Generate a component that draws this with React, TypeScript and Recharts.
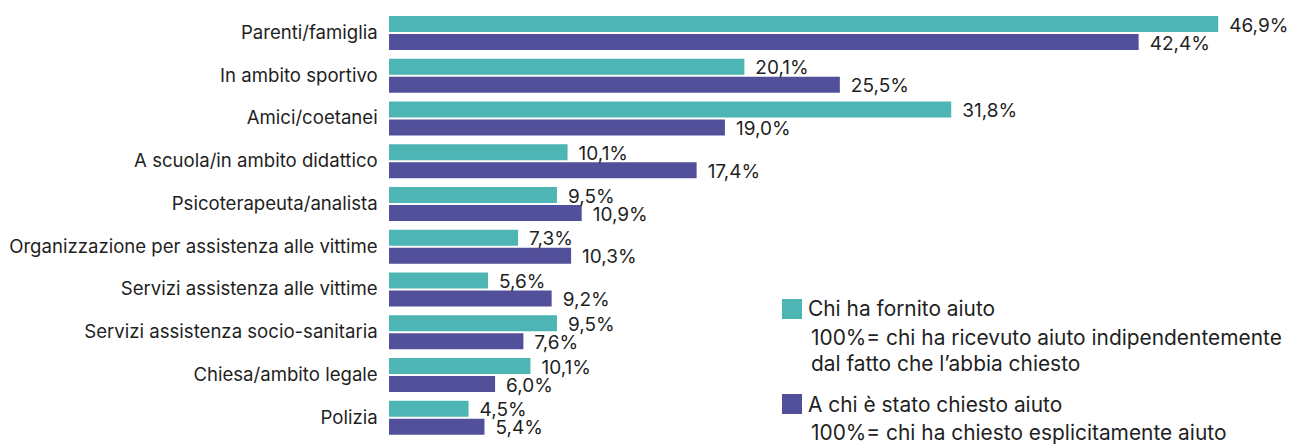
import React from 'react';
import { BarChart, Bar, XAxis, YAxis, LabelList, Legend } from 'recharts';

const categories = [
  'Parenti/famiglia',
  'In ambito sportivo',
  'Amici/coetanei',
  'A scuola/in ambito didattico',
  'Psicoterapeuta/analista',
  'Organizzazione per assistenza alle vittime',
  'Servizi assistenza alle vittime',
  'Servizi assistenza socio-sanitaria',
  'Chiesa/ambito legale',
  'Polizia',
];

// Printed values
const fornitoValues = [46.9, 20.1, 31.8, 10.1, 9.5, 7.3, 5.6, 9.5, 10.1, 4.5];
const chiestoValues = [42.4, 25.5, 19.0, 17.4, 10.9, 10.3, 9.2, 7.6, 6.0, 5.4];
// Bar lengths as drawn in the reference (the "Chiesa/ambito legale" teal bar is drawn shorter than its label)
const fornitoDrawn = [46.9, 20.1, 31.8, 10.1, 9.5, 7.3, 5.6, 9.5, 8.0, 4.5];

const seriesNames = ['Chi ha fornito aiuto', 'A chi è stato chiesto aiuto'];
const seriesNotes = [
  ['100%= chi ha ricevuto aiuto indipendentemente', 'dal fatto che l’abbia chiesto'],
  ['100%= chi ha chiesto esplicitamente aiuto'],
];

const TEAL = '#4DB6B4';
const PURPLE = '#52509B';
const TEXT = '#1f1f1f';
const FONT = 'Inter, "Noto Sans", sans-serif';

const fmt = (v: number) => v.toFixed(1).replace('.', ',') + '%';

const data = categories.map((name, i) => ({
  name,
  fornito: fornitoDrawn[i],
  chiesto: chiestoValues[i],
  fornitoLabel: fmt(fornitoValues[i]),
  chiestoLabel: fmt(chiestoValues[i]),
}));

const LegendContent = () => {
  const sq = (color: string, top: number) => (
    <div style={{ position: 'absolute', left: 0, top, width: 20, height: 20, background: color }} />
  );
  const line = (text: string, left: number, top: number) => (
    <div style={{ position: 'absolute', left, top, whiteSpace: 'nowrap', fontSize: 20.9, lineHeight: '26px', color: TEXT, fontFamily: FONT }}>
      {text}
    </div>
  );
  return (
    <div style={{ position: 'relative', width: 520, height: 151 }}>
      {sq(TEAL, 3)}
      {line(seriesNames[0], 26, 0)}
      {line(seriesNotes[0][0], 29, 29)}
      {line(seriesNotes[0][1], 29, 55)}
      {sq(PURPLE, 98.3)}
      {line(seriesNames[1], 26, 95.5)}
      {line(seriesNotes[1][0], 29, 123.5)}
    </div>
  );
};

export default function App() {
  return (
    <div style={{ position: 'absolute', left: 0, top: 0, width: 1302, height: 447, background: '#fff', fontFamily: FONT }}>
      <BarChart
        width={1302}
        height={447}
        data={data}
        layout="vertical"
        margin={{ top: 12, right: 29, bottom: 7.5, left: 0 }}
        barSize={16}
        barGap={2}
        style={{ fontFamily: FONT }}
      >
        <XAxis type="number" domain={[0, 50]} hide />
        <YAxis
          type="category"
          dataKey="name"
          width={389}
          axisLine={false}
          tickLine={false}
          tickSize={0}
          tickMargin={11.3}
          interval={0}
          tick={{ fontSize: 18.6, fill: TEXT, fontFamily: FONT, dy: -1 }}
        />
        <Legend
          verticalAlign="middle"
          layout="horizontal"
          wrapperStyle={{ left: 782, top: 296, width: 520, height: 151 }}
          content={<LegendContent />}
        />
        <Bar dataKey="fornito" fill={TEAL} isAnimationActive={false}>
          <LabelList dataKey="fornitoLabel" position="right" offset={11} style={{ fontSize: 19, fill: TEXT, fontFamily: FONT }} dy={1} />
        </Bar>
        <Bar dataKey="chiesto" fill={PURPLE} isAnimationActive={false}>
          <LabelList dataKey="chiestoLabel" position="right" offset={11} style={{ fontSize: 19, fill: TEXT, fontFamily: FONT }} dy={1} />
        </Bar>
      </BarChart>
    </div>
  );
}
